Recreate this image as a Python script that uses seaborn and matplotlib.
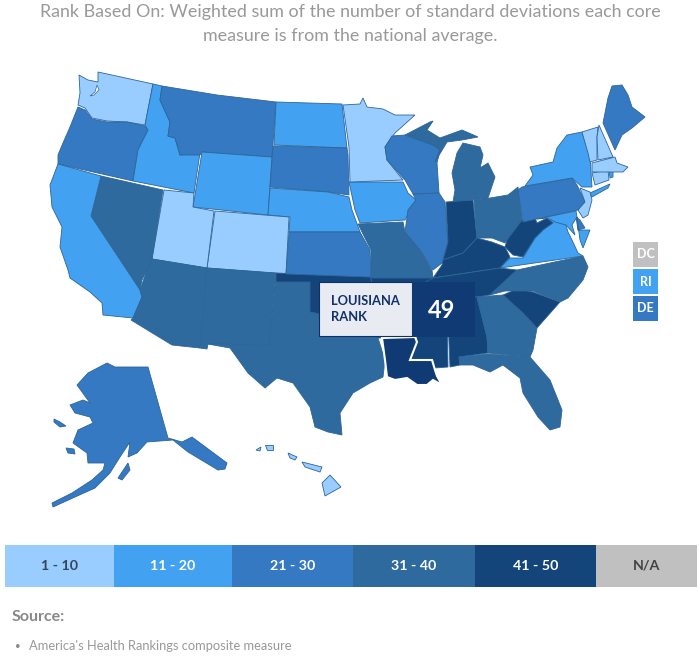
import matplotlib
matplotlib.use("Agg")
import matplotlib.pyplot as plt
import seaborn as sns

# rank groups, colours and labels of the legend
group_labels = ['1 - 10', '11 - 20', '21 - 30', '31 - 40', '41 - 50', 'N/A']
group_colors = ['#99CCFF', '#42A1F0', '#3579C2', '#2E6A9E', '#14457A', '#C0C0C0']
legend_edges = [5, 114, 232, 353, 475, 596, 697]
legend_text_colors = ['#33475b', 'white', 'white', 'white', 'white', '#444444']

# rank group of each state (index in group_labels)
state_group = {
    'WA': 0, 'OR': 2, 'CA': 1, 'NV': 3, 'ID': 1, 'MT': 2, 'WY': 1, 'UT': 0, 'CO': 0, 'AZ': 3, 'NM': 3,
    'ND': 1, 'SD': 2, 'NE': 1, 'KS': 2, 'OK': 4, 'TX': 3, 'MN': 0, 'IA': 1, 'MO': 3, 'AR': 4,
    'WI': 2, 'IL': 2, 'MI_U': 3, 'MI_L': 3, 'IN': 4, 'OH': 3, 'KY': 4, 'TN': 4, 'MS': 4, 'AL': 4,
    'GA': 3, 'FL': 3, 'SC': 4, 'NC': 3, 'VA': 1, 'WV': 4, 'PA': 2, 'NY': 1, 'NY_LI': 1, 'NJ': 0,
    'DE': 2, 'MD_W': 1, 'MD_E': 1, 'CT': 0, 'RI': 1, 'MA': 0, 'VT': 0, 'NH': 0, 'ME': 2,
    'AK': 2, 'AK_1': 2, 'AK_2': 2, 'AK_3': 2, 'HI': 0, 'HI_1': 0, 'HI_2': 0, 'HI_3': 0, 'HI_4': 0,
}

# state outlines
state_outline = {
    'WA': [(79,75),(88,80),(98,82),(98,72),(153,84),(145,125),(127,122),(107,121),(92,118),(85,108),(78,105),(80,93)],
    'OR': [(78,107),(85,110),(92,119),(107,122),(127,122),(145,126),(148,130),(138,150),(133,181),(58,164),(58,155),(63,143),(70,127)],
    'ID': [(153,84),(162,86),(160,100),(170,122),(168,136),(175,138),(180,155),(200,153),(194,193),(133,181),(138,150),(148,130),(145,125)],
    'MT': [(162,86),(217,95),(276,102),(272,157),(202,152),(200,155),(180,155),(175,138),(168,136),(170,122),(160,100)],
    'WY': [(202,152),(272,157),(268,215),(193,207)],
    'ND': [(276,102),(342,104),(347,148),(274,145)],
    'SD': [(273,146),(347,148),(348,155),(349,195),(328,192),(270,187)],
    'NE': [(270,188),(328,192),(349,197),(352,210),(360,232),(289,232),(290,217),(268,215)],
    'CO': [(215,211),(289,217),(286,274),(207,268)],
    'UT': [(164,190),(194,193),(193,207),(214,211),(207,268),(152,259)],
    'NV': [(101,176),(163,190),(152,259),(147,270),(142,280),(140,290),(91,216)],
    'CA': [(58,164),(101,176),(91,216),(140,290),(142,297),(133,318),(103,315),(102,303),(90,292),(70,278),(68,270),(60,247),(62,227),(52,207),(50,185)],
    'AZ': [(131,320),(133,318),(142,297),(140,290),(147,270),(152,259),(207,268),(200,348),(172,345)],
    'NM': [(207,268),(276,273),(269,345),(208,344),(207,349),(200,348)],
    'TX': [(276,277),(310,282),(310,312),(378,322),(378,338),(385,360),(383,377),(370,383),(353,393),(340,413),(342,435),(328,432),(315,427),(310,407),(293,383),(277,378),(265,388),(248,373),(230,348),(208,344),(269,345)],
    'OK': [(276,273),(371,277),(378,338),(350,320),(310,312),(310,282),(276,282)],
    'KS': [(289,232),(360,232),(370,250),(371,277),(286,274)],
    'MO': [(358,224),(403,222),(405,232),(420,250),(432,270),(433,278),(371,280),(371,250)],
    'AR': [(371,278),(433,278),(420,300),(415,337),(378,338)],
    'IA': [(349,182),(403,182),(408,193),(416,200),(405,220),(360,223),(355,210)],
    'MN': [(343,105),(360,104),(363,98),(367,107),(383,109),(395,115),(415,115),(395,133),(385,147),(387,160),(403,180),(350,182),(349,147)],
    'WI': [(392,136),(405,135),(433,145),(440,150),(437,163),(439,193),(413,194),(405,180),(387,160),(385,147)],
    'MI_U': [(405,135),(430,122),(433,121),(427,130),(440,138),(462,130),(478,137),(462,140),(447,142),(435,162),(440,150),(433,145)],
    'MI_L': [(463,143),(480,147),(483,155),(480,168),(488,163),(495,177),(488,198),(453,202),(455,190),(452,173),(457,153)],
    'IL': [(413,194),(439,193),(445,202),(448,242),(442,263),(433,270),(420,250),(405,232),(408,210),(416,200)],
    'IN': [(446,202),(473,200),(477,238),(463,253),(443,260),(448,242)],
    'OH': [(474,200),(490,198),(508,195),(518,187),(522,220),(505,243),(492,238),(477,238)],
    'KY': [(443,260),(463,253),(477,238),(492,242),(505,247),(510,257),(500,268),(473,272),(440,277),(433,278),(442,265)],
    'TN': [(440,277),(500,268),(517,270),(490,295),(477,297),(415,297),(420,285),(433,278)],
    'MS': [(415,295),(447,295),(448,367),(435,368),(433,360),(410,360),(417,342)],
    'AL': [(447,295),(477,297),(487,337),(488,353),(459,357),(460,365),(450,367)],
    'GA': [(477,297),(503,295),(523,313),(537,328),(533,350),(530,357),(488,353),(487,337)],
    'FL': [(459,357),(488,354),(530,357),(550,380),(562,410),(560,427),(550,430),(538,417),(523,393),(520,378),(503,365),(490,372),(473,365),(460,365)],
    'SC': [(503,295),(517,289),(533,292),(560,302),(537,328),(523,313)],
    'NC': [(583,256),(588,267),(583,280),(568,298),(560,302),(533,291),(505,291),(490,295),(517,270)],
    'VA': [(500,268),(510,258),(523,258),(535,238),(543,230),(553,215),(565,222),(568,232),(572,240),(578,253),(583,256)],
    'WV': [(522,220),(535,218),(537,223),(547,218),(553,223),(543,230),(535,238),(523,257),(513,255),(505,247),(507,240)],
    'PA': [(518,190),(522,187),(572,178),(577,185),(585,202),(578,210),(523,222)],
    'NY': [(525,186),(533,175),(530,167),(553,162),(557,148),(567,135),(582,132),(590,157),(592,187),(582,187),(572,178)],
    'NY_LI': [(590,193),(610,184),(608,188),(592,197)],
    'NJ': [(580,188),(590,192),(592,200),(588,215),(583,218),(578,210),(585,202)],
    'DE': [(576,217),(580,220),(585,228),(578,230)],
    'MD_W': [(537,219),(576,211),(577,217),(572,225),(575,235),(566,225),(555,222),(548,218)],
    'MD_E': [(577,217),(578,230),(590,230),(583,248),(580,240)],
    'CT': [(592,173),(608,170),(609,180),(595,185)],
    'RI': [(609,170),(613,172),(613,177),(610,178)],
    'MA': [(592,163),(615,157),(617,163),(628,167),(623,172),(613,172),(592,172)],
    'VT': [(582,132),(598,127),(597,137),(597,160),(590,162),(588,153)],
    'NH': [(599,125),(613,157),(598,160),(597,137)],
    'ME': [(612,86),(622,85),(628,95),(632,107),(645,117),(632,128),(622,135),(615,150),(603,123),(608,98)],
    'AK': [(107,363),(115,367),(148,367),(168,438),(182,442),(192,437),(227,463),(225,469),(218,470),(188,452),(173,440),(147,442),(137,453),(128,457),(130,442),(120,457),(110,473),(95,488),(75,497),(53,507),(52,503),(72,493),(92,480),(103,470),(105,463),(88,463),(87,453),(73,443),(78,430),(93,423),(90,417),(75,413),(70,405),(83,400),(90,403),(77,385),(88,373)],
    'AK_1': [(54,419),(60,422),(66,426),(60,427),(54,422)],
    'AK_2': [(66,448),(74,449),(75,454),(68,453)],
    'AK_3': [(118,478),(128,463),(130,470),(122,480)],
    'HI': [(330,475),(341,487),(325,496),(322,483)],
    'HI_1': [(302,462),(322,467),(320,472),(305,467)],
    'HI_2': [(288,453),(297,457),(295,460),(290,458)],
    'HI_3': [(265,445),(273,445),(273,450),(267,450)],
    'HI_4': [(256,450),(261,447),(260,451)],
}
louisiana_outline = [(382,338),(415,337),(417,342),(410,360),(432,360),(435,370),(437,376),(442,385),(433,380),(427,385),(417,385),(407,378),(395,380),(387,377),(385,360)]
puget_sound = [(97,85),(95,92),(90,96),(94,95),(99,90)]

# small state boxes at the right
box_labels = ['DC', 'RI', 'DE']
box_groups = [5, 1, 2]
box_tops = [242, 269, 296]

title_lines = ['Rank Based On: Weighted sum of the number of standard deviations each core',
               'measure is from the national average.']
source_title = 'Source:'
source_item = "America's Health Rankings composite measure"
callout_state = 'LOUISIANA\nRANK'
callout_rank = '49'


def main():
    sns.set_style("white")
    plt.rcParams['font.family'] = ['Lato', 'DejaVu Sans']

    fig = plt.figure(figsize=(7, 6.57), dpi=100)
    ax = fig.add_axes([0, 0, 1, 1])
    ax.set_xlim(0, 700)
    ax.set_ylim(657, 0)
    ax.axis('off')

    for name, outline in state_outline.items():
        xs = [p[0] for p in outline]
        ys = [p[1] for p in outline]
        ax.fill(xs, ys, facecolor=group_colors[state_group[name]], edgecolor='#2d6598', linewidth=0.6)
    ax.fill([p[0] for p in puget_sound], [p[1] for p in puget_sound], facecolor='white', edgecolor='#2d6598', linewidth=0.5)

    # hovered state goes on top with white outline
    ax.fill([p[0] for p in louisiana_outline], [p[1] for p in louisiana_outline],
            facecolor='#0F3A73', edgecolor='white', linewidth=1.5)

    # DC / RI / DE boxes
    for label, g, top in zip(box_labels, box_groups, box_tops):
        ax.fill([633, 658, 658, 633], [top, top, top + 25, top + 25], facecolor=group_colors[g], edgecolor='none')
        ax.text(645.5, top + 12.5, label, color='white', fontsize=9, fontweight='bold', ha='center', va='center')

    # callout
    ax.fill([319, 412, 412, 319], [282, 282, 336, 336], facecolor='#E8ECF2', edgecolor='#0F2F66', linewidth=0.8)
    ax.fill([412, 475, 475, 412], [282, 282, 337, 337], facecolor='#0F3A73', edgecolor='none')
    ax.text(331, 309, callout_state, color='#12306B', fontsize=9.3, fontweight='bold', va='center', linespacing=1.4)
    ax.text(442, 310, callout_rank, color='white', fontsize=17, fontweight='bold', ha='center', va='center')

    # title
    ax.text(350, 12, title_lines[0], color='#999999', fontsize=12.9, ha='center', va='center')
    ax.text(350, 36, title_lines[1], color='#999999', fontsize=12.9, ha='center', va='center')

    # legend strip
    cax = fig.add_axes([0, 1 - 587 / 657, 1, 42 / 657])
    mids = [(a + b) / 2 for a, b in zip(legend_edges[:-1], legend_edges[1:])]
    sns.histplot(x=mids, weights=[1] * 6, bins=legend_edges, hue=group_labels, hue_order=group_labels,
                 palette=group_colors, alpha=1, linewidth=0, legend=False, ax=cax)
    cax.set_xlim(0, 700)
    cax.set_ylim(0, 1)
    cax.axis('off')
    for m, label, c in zip(mids, group_labels, legend_text_colors):
        cax.text(m, 0.5, label, color=c, fontsize=10.3, fontweight='bold', ha='center', va='center')

    # source
    ax.text(12, 617, source_title, color='#888888', fontsize=11.5, fontweight='bold', va='center')
    ax.text(15, 646, '\u2022', color='#888888', fontsize=7, va='center')
    ax.text(29, 646, source_item, color='#999999', fontsize=9.3, va='center')

    fig.savefig('out.png', dpi=100, facecolor='white')


if __name__ == "__main__":
    main()
